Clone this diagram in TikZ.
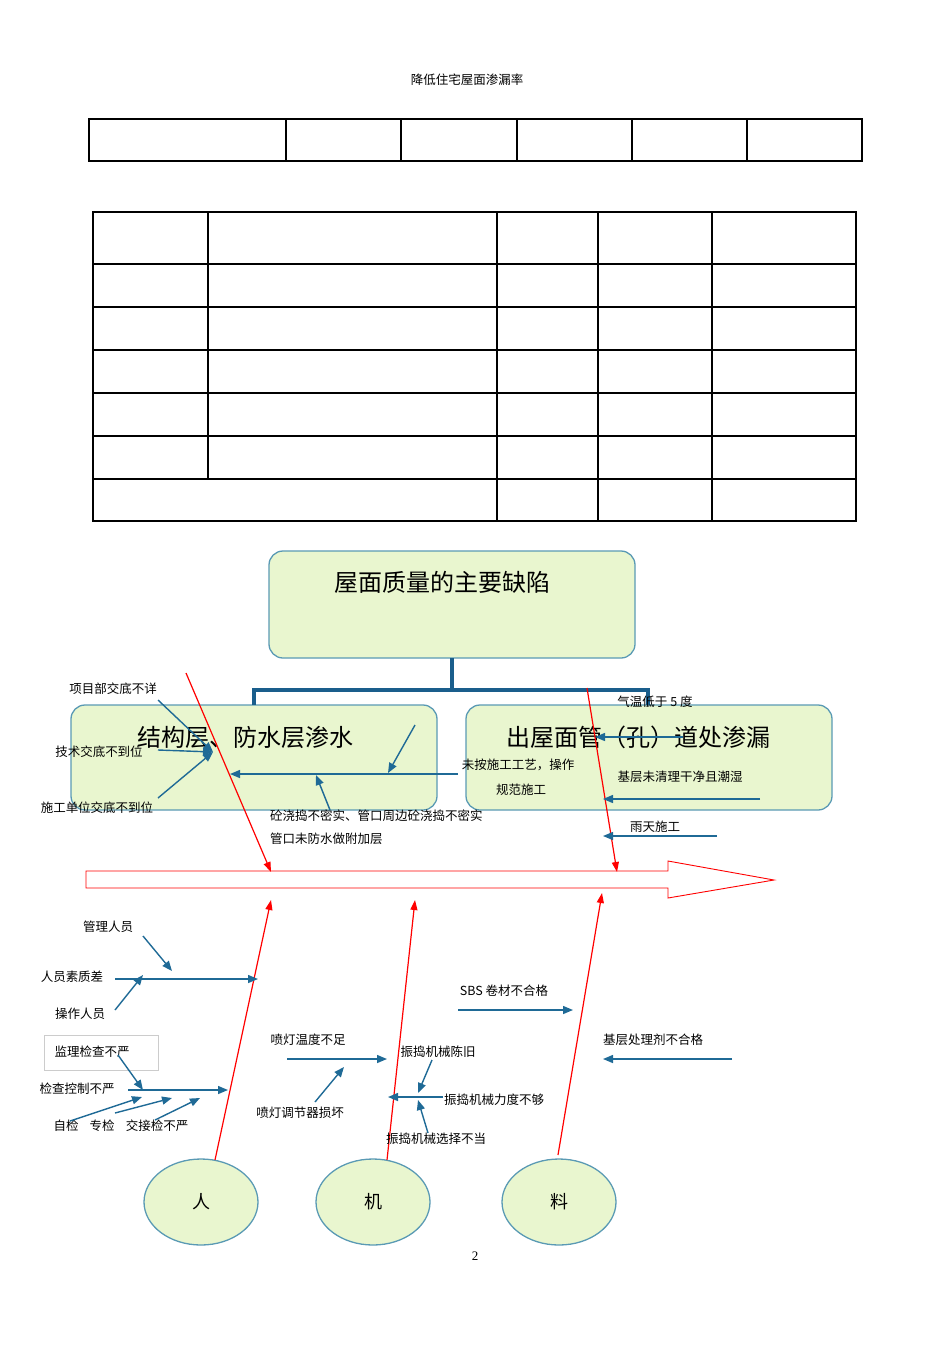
\documentclass[tikz,border=0pt]{standalone}
\usepackage{fontspec}
\setmainfont{Liberation Serif}
\newfontfamily\cjk{Noto Sans CJK SC}
\usetikzlibrary{arrows.meta,shapes.geometric}
\definecolor{bx}{HTML}{E9F6CF}
\definecolor{bd}{HTML}{5A9AB4}
\definecolor{ar}{HTML}{1F6A96}
\definecolor{dk}{HTML}{1A5E8C}
\tikzset{
 lbl/.style={font=\cjk\fontsize{12.5}{14}\selectfont,inner sep=1pt},
 big/.style={font=\cjk\fontsize{24}{28}\selectfont},
 gbox/.style={draw=bd,fill=bx,rounded corners=14pt,line width=1.3pt},
 barr/.style={draw=ar,line width=1.4pt,-{Triangle[length=10pt,width=8pt]}},
 rarr/.style={draw=red,line width=1.2pt,-{Triangle[length=10pt,width=7pt]}},
 tb/.style={line width=1.4pt},
 ell/.style={ellipse,draw=bd,fill=bx,line width=1.3pt,minimum width=114pt,minimum height=86pt,inner sep=0pt}
}
\begin{document}
\begin{tikzpicture}[x=1pt,y=-1pt]
\useasboundingbox (0,0) rectangle (950,1345);
\node[lbl] (title) at (467,80) {降低住宅屋面渗漏率};
% table 1
\draw[tb] (89,119) rectangle (862,161);
\foreach \x in {286,401,517,632,747} \draw[tb] (\x,119) -- (\x,161);
% table 2
\draw[tb] (93,212) rectangle (856,521);
\foreach \y in {264,307,350,393,436,479} \draw[tb] (93,\y) -- (856,\y);
\draw[tb] (208,212) -- (208,479);
\foreach \x in {497,598,712} \draw[tb] (\x,212) -- (\x,521);
% boxes
\draw[gbox] (269,551) rectangle (635,658);
\node[big] (top) at (442,582) {屋面质量的主要缺陷};
\draw[gbox] (71,705) rectangle (437,810);
\node[big] (lt) at (245,737) {结构层、防水层渗水};
\draw[gbox] (466,705) rectangle (832,810);
\node[big] (rt) at (638,737) {出屋面管（孔）道处渗漏};
\draw[draw=dk,line width=3.5pt] (452,658) -- (452,690) (254,690) -- (648,690) (254,688) -- (254,705) (648,688) -- (648,705);
% big arrow
\draw[red,line width=0.9pt] (86,871) -- (668,871) -- (668,861) -- (774,880) -- (668,898) -- (668,888) -- (86,888) -- cycle;
% red lines
\draw[rarr] (186,673) -- (271,872);
\draw[rarr] (587,688) -- (617,872);
\node[ell] (ren) at (201,1202) {\cjk\fontsize{18}{20}\selectfont 人};
\node[ell] (ji) at (373,1202) {\cjk\fontsize{18}{20}\selectfont 机};
\node[ell] (liao) at (559,1202) {\cjk\fontsize{18}{20}\selectfont 料};
\draw[rarr] (215,1160) -- (271,900);
\draw[rarr] (387,1160) -- (415,900);
\draw[rarr] (558,1155) -- (602,893);
% upper left causes
\node[lbl] (a1) at (113,689) {项目部交底不详};
\node[lbl] (a2) at (99,752) {技术交底不到位};
\node[lbl] (a3) at (97,808) {施工单位交底不到位};
\coordinate (hub1) at (213,752);
\draw[barr] (158,700) -- (hub1);
\draw[barr] (158,750) -- (hub1);
\draw[barr] (158,798) -- (hub1);
\draw[barr] (458,774) -- (230,774);
\draw[barr] (415,725) -- (388,773);
\draw[barr] (330,810) -- (316,775);
\node[lbl,anchor=west] (a4) at (269,816) {砼浇捣不密实、管口周边砼浇捣不密实};
\node[lbl,anchor=west] (a5) at (269,839) {管口未防水做附加层};
\node[lbl] (a6) at (518,765) {未按施工工艺，操作};
\node[lbl] (a7) at (521,790) {规范施工};
% upper right causes
\node[lbl] (b1) at (655,702) {气温低于 5 度};
\draw[barr] (683,737) -- (595,737);
\node[lbl] (b2) at (680,777) {基层未清理干净且潮湿};
\draw[barr] (760,799) -- (603,799);
\node[lbl] (b3) at (655,827) {雨天施工};
\draw[barr] (717,836) -- (603,836);
% lower left
\node[lbl] (c1) at (108,927) {管理人员};
\draw[barr] (143,936) -- (172,971);
\node[lbl] (c2) at (72,977) {人员素质差};
\draw[barr] (115,979) -- (258,979);
\node[lbl] (c3) at (80,1014) {操作人员};
\draw[barr] (115,1010) -- (143,975);
\draw[draw=gray!40,line width=0.8pt] (44,1035) rectangle (158,1070);
\node[lbl] (c4) at (92,1052) {监理检查不严};
\draw[barr] (118,1055) -- (143,1090);
\node[lbl] (c5) at (77,1089) {检查控制不严};
\draw[barr] (128,1090) -- (228,1090);
\node[lbl] (c6) at (66,1126) {自检};
\node[lbl] (c7) at (102,1126) {专检};
\node[lbl] (c8) at (157,1126) {交接检不严};
\draw[barr] (70,1121) -- (142,1097);
\draw[barr] (115,1113) -- (172,1098);
\draw[barr] (155,1120) -- (200,1098);
% middle
\node[lbl] (d1) at (308,1040) {喷灯温度不足};
\draw[barr] (287,1059) -- (387,1059);
\node[lbl] (d2) at (300,1113) {喷灯调节器损坏};
\draw[barr] (315,1102) -- (344,1067);
\node[lbl] (d3) at (438,1052) {振捣机械陈旧};
\draw[barr] (432,1060) -- (418,1093);
\node[lbl] (d4) at (494,1100) {振捣机械力度不够};
\draw[barr] (443,1097) -- (388,1097);
\node[lbl] (d5) at (436,1139) {振捣机械选择不当};
\draw[barr] (428,1133) -- (418,1100);
% right
\node[lbl] (e1) at (504,991) {SBS 卷材不合格};
\draw[barr] (458,1010) -- (573,1010);
\node[lbl] (e2) at (653,1040) {基层处理剂不合格};
\draw[barr] (732,1059) -- (603,1059);
\node[font=\fontsize{13}{15}\selectfont] (pg) at (475,1256) {2};
\end{tikzpicture}
\end{document}
